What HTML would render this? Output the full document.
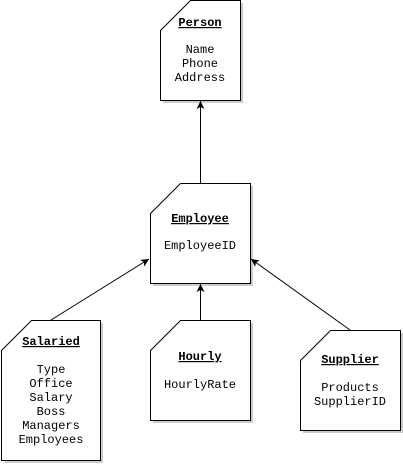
<!DOCTYPE html>
<html><head><style>html,body{margin:0;padding:0;background:#fff}svg{display:block}text{font-family:"Liberation Mono",monospace;font-size:12px;fill:#000;text-anchor:middle}.t{font-weight:bold;text-decoration:underline}</style></head><body>
<svg width="403" height="464" viewBox="0 0 403 464">
<defs><marker id="a" markerWidth="10" markerHeight="10" refX="8" refY="4" orient="auto" markerUnits="userSpaceOnUse"><path d="M0,0 L8,4 L0,8 L2,4 Z" fill="#000"/></marker></defs>
<g fill="#999" opacity="0.5">
<path d="M163,33 L193,3 L243,3 L243,103 L163,103 Z"/>
<path d="M153,216 L183,186 L253,186 L253,286 L153,286 Z"/>
<path d="M5,353 L35,323 L103,323 L103,463 L5,463 Z"/>
<path d="M153,353 L183,323 L253,323 L253,423 L153,423 Z"/>
<path d="M303,363 L333,333 L403,333 L403,433 L303,433 Z"/>
</g>
<g stroke="#000" fill="#fff" stroke-width="1">
<path d="M160.5,30.5 L190.5,0.5 L240.5,0.5 L240.5,100.5 L160.5,100.5 Z"/>
<path d="M150.5,213.5 L180.5,183.5 L250.5,183.5 L250.5,283.5 L150.5,283.5 Z"/>
<path d="M1.5,350.5 L31.5,320.5 L100.5,320.5 L100.5,460.5 L1.5,460.5 Z"/>
<path d="M150.5,350.5 L180.5,320.5 L250.5,320.5 L250.5,420.5 L150.5,420.5 Z"/>
<path d="M300.5,360.5 L330.5,330.5 L400.5,330.5 L400.5,430.5 L300.5,430.5 Z"/>
</g>
<g stroke="#000" stroke-width="1" fill="none">
<line x1="200.5" y1="183" x2="200.5" y2="101" marker-end="url(#a)"/>
<line x1="51" y1="320" x2="149" y2="259" marker-end="url(#a)"/>
<line x1="200.5" y1="320" x2="200.5" y2="284" marker-end="url(#a)"/>
<line x1="350" y1="330" x2="251" y2="259" marker-end="url(#a)"/>
</g>
<text class="t" x="200" y="26">Person</text>
<text x="200" y="53">Name</text><text x="200" y="67">Phone</text><text x="200" y="81">Address</text>
<text class="t" x="200" y="222">Employee</text>
<text x="200" y="249">EmployeeID</text>
<text class="t" x="51" y="345">Salaried</text>
<text x="51" y="373">Type</text><text x="51" y="387">Office</text><text x="51" y="401">Salary</text><text x="51" y="415">Boss</text><text x="51" y="429">Managers</text><text x="51" y="443">Employees</text>
<text class="t" x="200" y="360">Hourly</text>
<text x="200" y="388">HourlyRate</text>
<text class="t" x="350" y="363">Supplier</text>
<text x="350" y="391">Products</text><text x="350" y="405">SupplierID</text>
</svg>
</body></html>
